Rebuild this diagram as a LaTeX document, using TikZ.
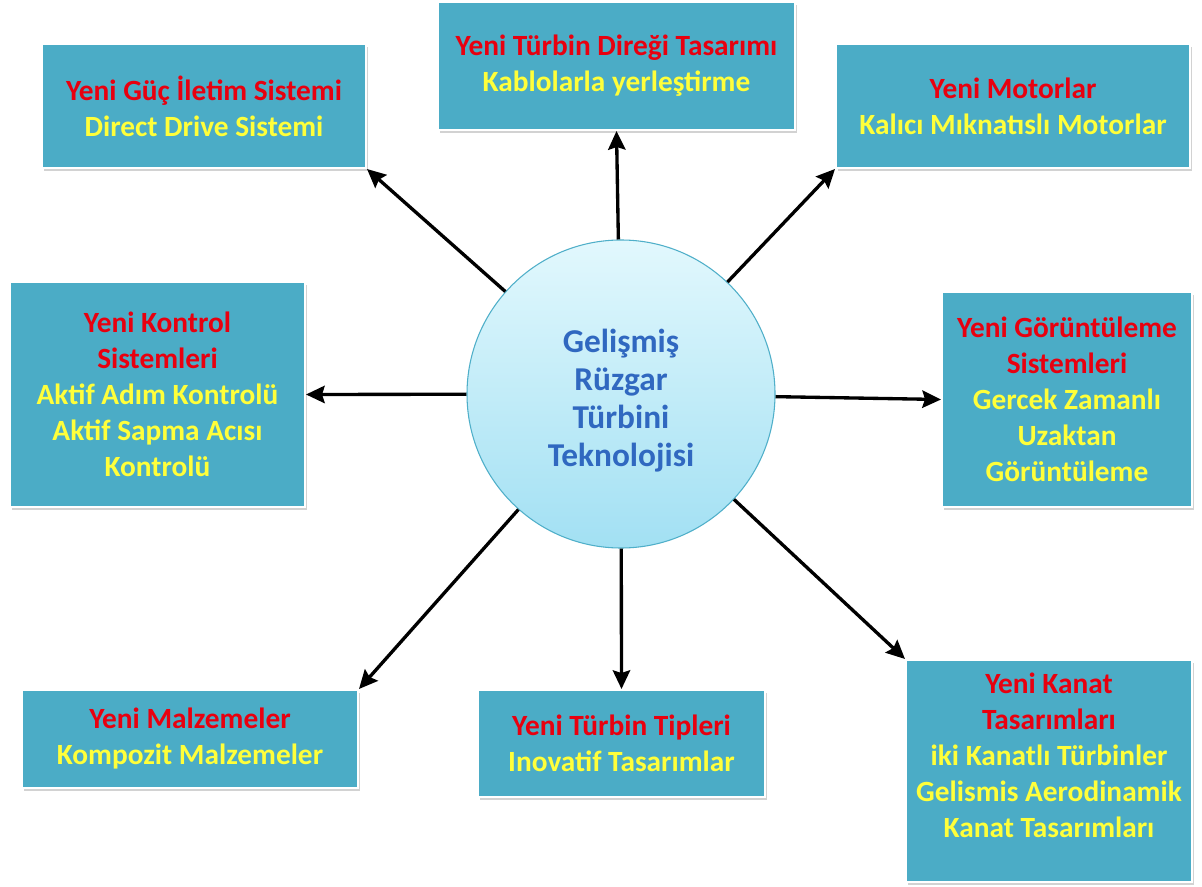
\documentclass[tikz,border=0pt]{standalone}
\usepackage{fontspec}
\setmainfont{Carlito}
\usetikzlibrary{arrows.meta,shadows}
\definecolor{boxfill}{HTML}{4BACC6}
\definecolor{tred}{HTML}{E8000F}
\definecolor{tyel}{HTML}{FFFF3A}
\definecolor{cblue}{HTML}{3068C0}
\definecolor{ctop}{HTML}{E2F8FD}
\definecolor{cbot}{HTML}{A2E0F3}
\definecolor{cborder}{HTML}{4FAFC9}
\begin{document}
\begin{tikzpicture}[x=0.75pt,y=-0.75pt,
  box/.style={draw=white, line width=1.5pt, fill=boxfill,
    drop shadow={shadow xshift=1.5pt, shadow yshift=-2pt, opacity=0.35},
    inner sep=0pt, align=center,
    font=\bfseries\fontsize{22}{27}\selectfont},
  arr/.style={line width=2.5pt, -{Stealth[length=14pt, width=13pt, inset=2pt]}}]
\useasboundingbox (0,0) rectangle (1202,887);
\fill[white] (0,0) rectangle (1202,887);

\node[box, minimum width=243pt, minimum height=93pt] (b1) at (204,106)
  {{\color{tred}Yeni Güç İletim Sistemi}\\{\color{tyel}Direct Drive Sistemi}};
\node[box, minimum width=267.75pt, minimum height=96pt] (b2) at (616.5,66)
  {{\color{tred}Yeni Türbin Direği Tasarımı}\\{\color{tyel}Kablolarla yerleştirme}};
\node[box, minimum width=265.5pt, minimum height=93pt] (b3) at (1013,106)
  {{\color{tred}Yeni Motorlar}\\{\color{tyel}Kalıcı Mıknatıslı Motorlar}};
\node[box, minimum width=221.25pt, minimum height=168.75pt] (b4) at (157.5,394.5)
  {{\color{tred}Yeni Kontrol}\\{\color{tred}Sistemleri}\\{\color{tyel}Aktif Adım Kontrolü}\\{\color{tyel}Aktif Sapma Acısı}\\{\color{tyel}Kontrolü}};
\node[box, minimum width=187.5pt, minimum height=161.25pt] (b5) at (1067,399.5)
  {{\color{tred}Yeni Görüntüleme}\\{\color{tred}Sistemleri}\\{\color{tyel}Gercek Zamanlı}\\{\color{tyel}Uzaktan}\\{\color{tyel}Görüntüleme}};
\node[box, minimum width=252pt, minimum height=73.5pt] (b6) at (190,739)
  {{\color{tred}Yeni Malzemeler}\\{\color{tyel}Kompozit Malzemeler}};
\node[box, minimum width=215.25pt, minimum height=80.25pt] (b7) at (621.5,743.5)
  {{\color{tred}Yeni Türbin Tipleri}\\{\color{tyel}Inovatif Tasarımlar}};
\node[box, minimum width=214.5pt, minimum height=166.5pt] (b8) at (1049,771) {};
\node[align=center, inner sep=0pt, font=\bfseries\fontsize{22}{27}\selectfont] (b8t) at (1049,755)
  {{\color{tred}Yeni Kanat}\\{\color{tred}Tasarımları}\\{\color{tyel}iki Kanatlı Türbinler}\\{\color{tyel}Gelismis Aerodinamik}\\{\color{tyel}Kanat Tasarımları}};

\node[circle, minimum size=231pt, inner sep=0pt, draw=cborder, line width=0.8pt,
  top color=ctop, bottom color=cbot, align=center,
  font=\bfseries\fontsize{25}{28.5}\selectfont, text=cblue] (c) at (621,394)
  {\raisebox{-5pt}[\height][\depth]{\parbox{200pt}{\centering Gelişmiş\\Rüzgar\\Türbini\\Teknolojisi}}};

\draw[arr] (c) -- (b1.south east);
\draw[arr] (c) -- (b2.south);
\draw[arr] (c) -- (b3.south west);
\draw[arr] (c) -- (b4.east);
\draw[arr] (c) -- (b5.west);
\draw[arr] (c) -- (b6.north east);
\draw[arr] (c) -- (b7.north);
\draw[arr] (c) -- (b8.north west);
\end{tikzpicture}
\end{document}
